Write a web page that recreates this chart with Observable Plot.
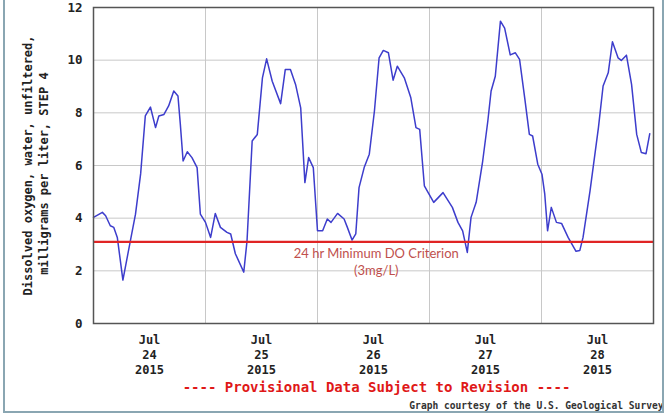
<!DOCTYPE html>
<html>
<head>
<meta charset="utf-8">
<script src="https://cdn.jsdelivr.net/npm/d3@7"></script>
<script src="https://cdn.jsdelivr.net/npm/@observablehq/plot@0.6"></script>
<style>
  html, body { margin: 0; padding: 0; background: #fff; }
  #wrap { position: relative; width: 670px; height: 418px; overflow: hidden; }
  #border { position: absolute; left: 3px; top: -4px; width: 661px; height: 417px;
            border: 2px solid #8aa6b2; pointer-events: none; box-sizing: border-box; }
</style>
</head>
<body>
<div id="wrap"><div id="chart"></div><div id="border"></div></div>
<script>
// Hours since 2015-07-24 00:00 and dissolved oxygen (mg/L)
const hours = [0, 1.9, 2.6, 3.6, 4.35, 5.1, 6.3, 7.9, 9.0, 10.1, 11.1, 12.2, 13.3, 14.0, 15.1, 16.1, 17.2, 18.1, 18.6, 19.2, 20.1, 21.1, 22.2, 22.9,
  24.0, 25.1, 26.1, 27.2, 28.6, 29.4, 30.4, 32.2, 32.9, 34.0, 35.1, 36.2, 37.1, 38.3, 40.1, 41.1, 42.2, 43.3, 44.4, 45.3, 46.1, 47.1,
  48.0, 49.1, 50.1, 50.9, 52.3, 53.7, 54.4, 55.4, 56.2, 56.9, 58.0, 59.1, 60.2, 61.2, 62.1, 63.2, 64.2, 65.1, 66.6, 68.0, 69.1, 69.9, 70.9, 71.9,
  72.9, 74.9, 76.9, 78.1, 79.1, 80.1, 80.9, 82.0, 83.4, 84.5, 85.2, 86.1, 87.2, 88.1, 89.3, 90.4, 91.3, 92.4, 93.4, 94.1, 95.2,
  96.1, 96.7, 97.3, 98.1, 99.2, 100.3, 101.7, 103.4, 104.2, 104.9, 106.4, 108.2, 109.2, 110.3, 111.2, 112.4, 113.1, 114.2, 115.3, 116.4, 117.4, 118.4, 119.2];
const doValues = [4.03, 4.22, 4.09, 3.71, 3.65, 3.27, 1.65, 3.14, 4.15, 5.68, 7.88, 8.22, 7.44, 7.88, 7.94, 8.26, 8.83, 8.64, 7.58, 6.17, 6.52, 6.30, 5.92, 4.15,
  3.84, 3.27, 4.18, 3.65, 3.46, 3.40, 2.65, 1.95, 3.14, 6.93, 7.18, 9.33, 10.05, 9.2, 8.35, 9.65, 9.65, 9.08, 8.19, 5.35, 6.30, 5.92,
  3.52, 3.52, 3.97, 3.84, 4.18, 3.97, 3.65, 3.17, 3.40, 5.16, 5.92, 6.43, 8.07, 10.09, 10.37, 10.28, 9.24, 9.77, 9.33, 8.57, 7.44, 7.37, 5.23, 4.91,
  4.6, 4.97, 4.41, 3.84, 3.52, 2.70, 4.03, 4.6, 6.17, 7.69, 8.83, 9.39, 11.48, 11.22, 10.2, 10.28, 10.03, 8.57, 7.18, 7.12, 6.05,
  5.67, 4.91, 3.52, 4.41, 3.84, 3.80, 3.27, 2.74, 2.77, 3.27, 5.04, 7.44, 9.02, 9.52, 10.7, 10.09, 9.99, 10.19, 9.08, 7.18, 6.49, 6.45, 7.21];

const startDate = "2015-07-24";
const endDate = "2015-07-29";
const dayLabels = ["Jul\n24\n2015", "Jul\n25\n2015", "Jul\n26\n2015", "Jul\n27\n2015", "Jul\n28\n2015"];
const yTicks = [0, 2, 4, 6, 8, 10, 12];
const criterionValue = 3.1;
const criterionLabel = "24 hr Minimum DO Criterion\n(3mg/L)";
const criterionLabelHour = 60.6;
const yLabelLine1 = "Dissolved oxygen, water, unfiltered,";
const yLabelLine2 = "milligrams per liter, STEP 4";
const provisionalText = "---- Provisional Data Subject to Revision ----";
const courtesyText = "Graph courtesy of the U.S. Geological Survey";

const t0 = new Date(startDate + "T00:00:00Z").getTime();
const toDate = h => new Date(t0 + h * 3600e3);
const series = hours.map((h, i) => ({date: toDate(h), value: doValues[i]}));
const midnights = d3.utcDay.range(new Date(startDate + "T00:00:00Z"), new Date(endDate + "T00:00:01Z"));
const noons = dayLabels.map((lab, i) => ({date: toDate(24 * i + 12), label: lab}));

const mono = "'DejaVu Sans Mono', monospace";

const chart = Plot.plot({
  width: 670,
  height: 418,
  marginLeft: 93,
  marginRight: 17,
  marginTop: 7,
  marginBottom: 95,
  style: {fontFamily: mono, background: "transparent"},
  x: {type: "utc", domain: [new Date(startDate + "T00:00:00Z"), new Date(endDate + "T00:00:00Z")], axis: null},
  y: {domain: [0, 12], axis: null},
  marks: [
    Plot.gridY(yTicks, {stroke: "#c8c8c8", strokeOpacity: 1, strokeWidth: 1}),
    Plot.gridX(midnights, {stroke: "#c8c8c8", strokeOpacity: 1, strokeWidth: 1}),
    Plot.line(series, {x: "date", y: "value", stroke: "#3d3dcc", strokeWidth: 1.5, curve: "linear"}),
    Plot.ruleY([criterionValue], {stroke: "#e02424", strokeWidth: 2.2}),
    Plot.text([criterionLabel], {x: () => toDate(criterionLabelHour), y: () => criterionValue, text: d => d,
      fill: "#c0504d", fontFamily: "Lato, 'Open Sans', sans-serif", fontSize: 13, lineAnchor: "top", lineHeight: 1.3, dy: 4}),
    Plot.frame({stroke: "#555", strokeWidth: 1.5}),
    Plot.text(yTicks, {x: () => new Date(startDate + "T00:00:00Z"), y: d => d, text: d => String(d), textAnchor: "end", dx: -11,
      fontWeight: "bold", fontSize: 12.5, fill: "#222", style: {letterSpacing: "1.5px"}}),
    Plot.text(noons, {x: "date", text: "label", frameAnchor: "bottom", lineAnchor: "top", dy: 10, lineHeight: 1.25,
      fontWeight: "bold", fontSize: 12, fill: "#222", style: {letterSpacing: "1px"}}),
    Plot.text([yLabelLine1], {frameAnchor: "left", textAnchor: "middle", text: d => d, rotate: -90, dx: -65, dy: 0,
      fontWeight: "bold", fontSize: 12, fill: "#222", style: {letterSpacing: "0.9px"}}),
    Plot.text([yLabelLine2], {frameAnchor: "left", textAnchor: "middle", text: d => d, rotate: -90, dx: -49, dy: 8,
      fontWeight: "bold", fontSize: 12, fill: "#222", style: {letterSpacing: "1px"}}),
    Plot.text([provisionalText], {frameAnchor: "bottom", text: d => d, dx: 3, dy: 68,
      fontWeight: "bold", fontSize: 14, fill: "#e01818"}),
    Plot.text([courtesyText], {frameAnchor: "bottom-right", text: d => d, textAnchor: "end", dx: 10, dy: 85,
      fontWeight: "bold", fontSize: 9.6, fill: "#333"})
  ]
});
document.getElementById("chart").appendChild(chart);
</script>
</body>
</html>
